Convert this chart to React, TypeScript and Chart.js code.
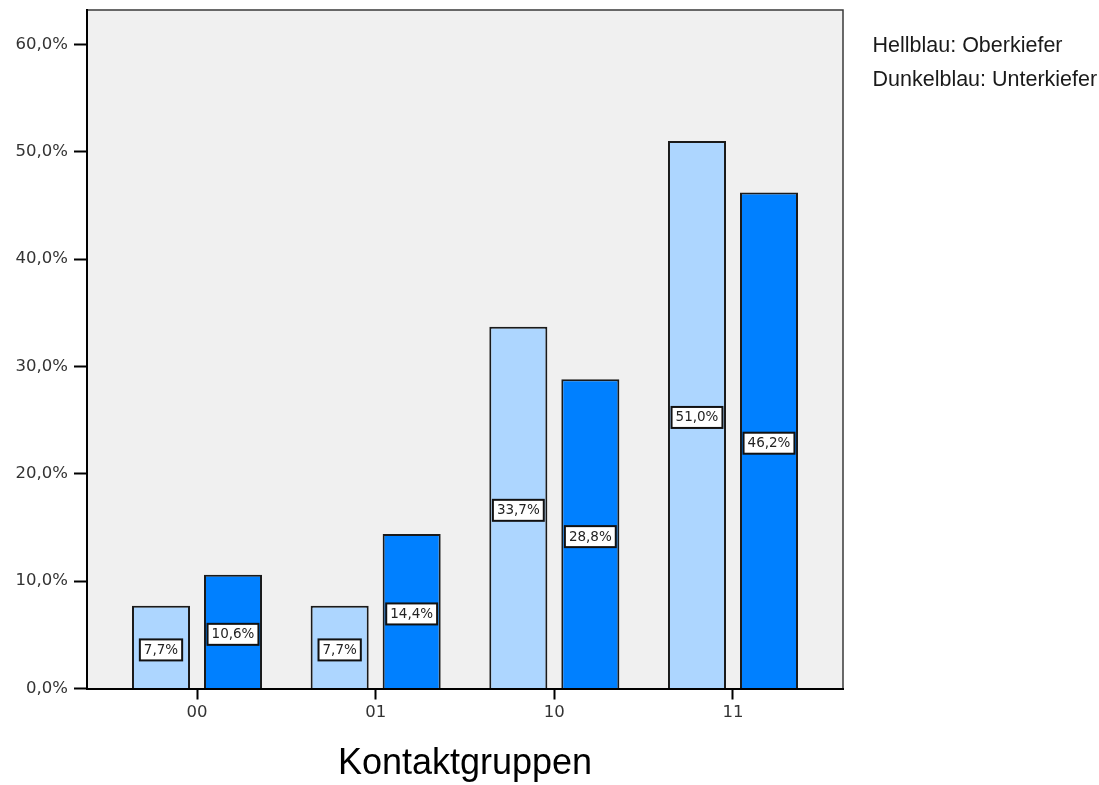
import React, { useEffect, useRef } from 'react';
import { Chart, registerables } from 'chart.js';

Chart.register(...registerables);

// Contact groups on the x axis and the share per jaw
const categories = ['00', '01', '10', '11'];
const oberkiefer = [7.7, 7.7, 33.7, 51.0];
const unterkiefer = [10.6, 14.4, 28.8, 46.2];
const yTickValues = [0, 10, 20, 30, 40, 50, 60];
const legendLines = ['Hellblau: Oberkiefer', 'Dunkelblau: Unterkiefer'];
const axisTitle = 'Kontaktgruppen';

const LIGHT = '#ADD6FF';
const DARK = '#0080FF';
const PLOT_BG = '#F0F0F0';

const fmt = (v: number) => v.toFixed(1).replace('.', ',') + '%';

const framePlugin = {
  id: 'frame',
  beforeDraw(chart: any) {
    const { ctx, chartArea: a } = chart;
    ctx.save();
    ctx.fillStyle = PLOT_BG;
    ctx.fillRect(a.left, a.top, a.right - a.left, a.bottom - a.top);
    ctx.strokeStyle = '#3a3a3a';
    ctx.lineWidth = 1.5;
    ctx.beginPath();
    ctx.moveTo(a.left, a.top);
    ctx.lineTo(a.right, a.top);
    ctx.lineTo(a.right, a.bottom);
    ctx.stroke();
    ctx.restore();
  },
};

const valueLabelPlugin = {
  id: 'valueLabels',
  afterDatasetsDraw(chart: any) {
    const { ctx } = chart;
    ctx.save();
    ctx.font = '13.5px "DejaVu Sans"';
    ctx.textAlign = 'center';
    ctx.textBaseline = 'middle';
    chart.data.datasets.forEach((ds: any, di: number) => {
      const meta = chart.getDatasetMeta(di);
      meta.data.forEach((el: any, i: number) => {
        const v = ds.data[i].y;
        const text = fmt(v);
        const w = ctx.measureText(text).width + 8;
        const h = 21;
        const cx = el.x;
        const cy = (el.y + el.base) / 2 + 3;
        ctx.fillStyle = '#FFFFFF';
        ctx.fillRect(cx - w / 2, cy - h / 2, w, h);
        ctx.strokeStyle = '#111111';
        ctx.lineWidth = 2;
        ctx.strokeRect(cx - w / 2, cy - h / 2, w, h);
        ctx.fillStyle = '#222222';
        ctx.fillText(text, cx, cy + 0.5);
      });
    });
    ctx.restore();
  },
};

const textPlugin = {
  id: 'texts',
  afterDraw(chart: any) {
    const { ctx, chartArea: a } = chart;
    ctx.save();
    ctx.fillStyle = '#000000';
    ctx.textAlign = 'center';
    ctx.textBaseline = 'alphabetic';
    ctx.font = '36px "Liberation Sans"';
    ctx.fillText(axisTitle, (a.left + a.right) / 2, 774);
    ctx.textAlign = 'left';
    ctx.font = '21.5px "Liberation Sans"';
    ctx.fillStyle = '#1a1a1a';
    legendLines.forEach((line, i) => {
      ctx.fillText(line, 872.5, 51.5 + i * 34.5);
    });
    ctx.restore();
  },
};

export default function App() {
  const canvasRef = useRef<HTMLCanvasElement | null>(null);

  useEffect(() => {
    if (!canvasRef.current) return;
    const chart = new Chart(canvasRef.current, {
      type: 'bar',
      data: {
        datasets: [
          {
            label: 'Oberkiefer',
            data: categories.map((_, i) => ({ x: i, y: oberkiefer[i] })),
            backgroundColor: LIGHT,
            borderColor: '#1a1a1a',
            borderWidth: 2,
            categoryPercentage: 0.806,
            barPercentage: 0.806,
          },
          {
            label: 'Unterkiefer',
            data: categories.map((_, i) => ({ x: i, y: unterkiefer[i] })),
            backgroundColor: DARK,
            borderColor: '#1a1a1a',
            borderWidth: 2,
            categoryPercentage: 0.806,
            barPercentage: 0.806,
          },
        ],
      },
      options: {
        responsive: false,
        animation: false,
        layout: { padding: { top: 10, right: 256, left: 0, bottom: 0 } },
        plugins: {
          legend: { display: false },
          tooltip: { enabled: false },
        },
        scales: {
          x: {
            type: 'linear',
            offset: false,
            min: -0.6157,
            max: 3.6157,
            afterBuildTicks: (scale: any) => {
              scale.ticks = categories.map((_, i) => ({ value: i }));
            },
            afterFit: (scale: any) => {
              scale.height = 96.5;
              scale.paddingLeft = 0;
              scale.paddingRight = 0;
            },
            ticks: {
              callback: (v: any) => categories[Math.round(Number(v))] ?? '',
              color: '#333333',
              font: { family: 'DejaVu Sans', size: 16.5 },
              padding: 3,
              maxRotation: 0,
            },
            grid: {
              offset: false,
              drawOnChartArea: false,
              tickLength: 11,
              tickWidth: 2,
              tickColor: '#000000',
            },
            border: { display: true, color: '#000000', width: 2 },
          },
          y: {
            min: 0,
            max: 63.19,
            afterBuildTicks: (scale: any) => {
              scale.ticks = yTickValues.map((v) => ({ value: v }));
            },
            afterFit: (scale: any) => {
              scale.width = 87;
              scale.paddingTop = 0;
              scale.paddingBottom = 0;
            },
            ticks: {
              callback: (v: any) => fmt(Number(v)),
              color: '#333333',
              font: { family: 'DejaVu Sans', size: 16.5 },
              padding: 6,
            },
            grid: {
              drawOnChartArea: false,
              tickLength: 13,
              tickWidth: 2,
              tickColor: '#000000',
            },
            border: { display: true, color: '#000000', width: 2 },
          },
        },
      },
      plugins: [framePlugin, valueLabelPlugin, textPlugin],
    } as any);
    return () => chart.destroy();
  }, []);

  return (
    <div style={{ position: 'fixed', left: 0, top: 0, width: 1099, height: 785, background: '#FFFFFF' }}>
      <canvas ref={canvasRef} width={1099} height={785} style={{ width: 1099, height: 785, display: 'block' }} />
    </div>
  );
}
